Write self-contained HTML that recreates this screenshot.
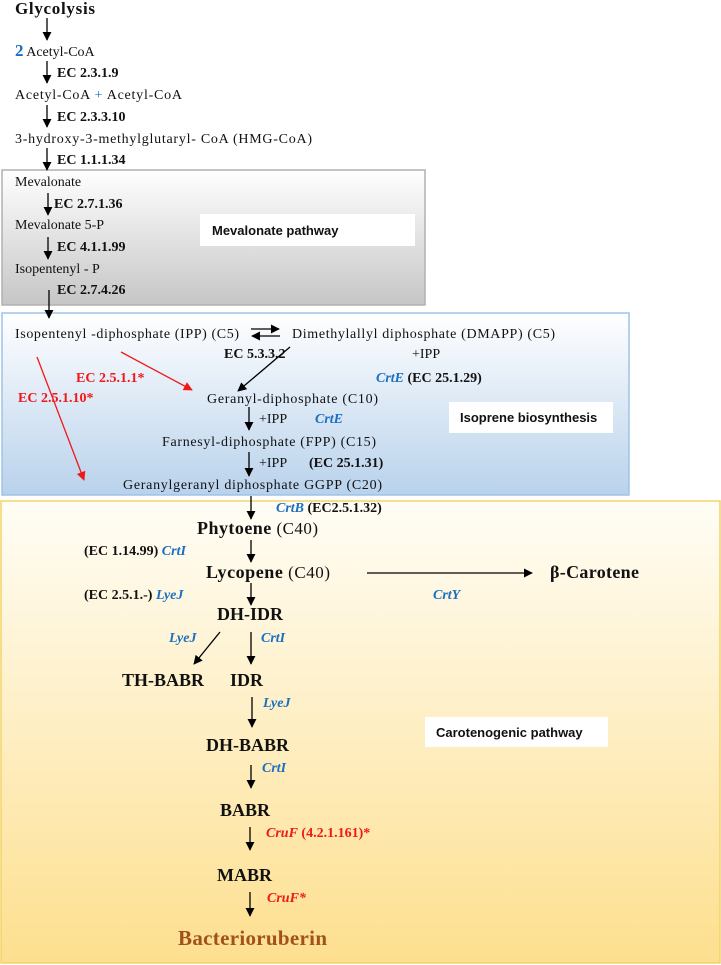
<!DOCTYPE html>
<html><head><meta charset="utf-8"><style>
html,body{margin:0;padding:0;background:#fff;width:721px;height:965px;overflow:hidden}
svg{display:block}
text{font-family:"Liberation Serif",serif;font-size:14px;fill:#111}
.b{font-weight:bold}
.bl{fill:#1a6fc0;font-style:italic;font-weight:bold}
.r{fill:#f01818;font-weight:bold}
.s{font-family:"Liberation Sans",sans-serif;font-weight:bold;font-size:13px}
.n{font-weight:bold;font-size:18px}
</style></head><body>
<svg width="721" height="965" viewBox="0 0 721 965" xmlns="http://www.w3.org/2000/svg">
<defs>
<linearGradient id="g1" x1="0" y1="0" x2="0" y2="1"><stop offset="0" stop-color="#ffffff"/><stop offset="1" stop-color="#c6c6c6"/></linearGradient>
<linearGradient id="g2" x1="0" y1="0" x2="0" y2="1"><stop offset="0" stop-color="#ffffff"/><stop offset="1" stop-color="#b9d2ec"/></linearGradient>
<linearGradient id="g3" x1="0" y1="0" x2="0" y2="1"><stop offset="0" stop-color="#fffdf6"/><stop offset="1" stop-color="#fddf8e"/></linearGradient>
<marker id="a" viewBox="0 0 10 10" refX="9" refY="5" markerWidth="7" markerHeight="7" orient="auto-start-reverse"><path d="M0,0 L10,5 L0,10 z" fill="#000"/></marker>
<marker id="ar" viewBox="0 0 10 10" refX="9" refY="5" markerWidth="7" markerHeight="7" orient="auto"><path d="M0,0 L10,5 L0,10 z" fill="#f01818"/></marker>
</defs>
<!-- boxes -->
<rect x="2" y="170" width="423" height="135" fill="url(#g1)" stroke="#b0b0b0" stroke-width="1.5"/>
<rect x="2" y="313" width="627" height="182" fill="url(#g2)" stroke="#9dc3e6" stroke-width="1.5"/>
<rect x="1" y="501" width="719" height="462" fill="url(#g3)" stroke="#f3d36a" stroke-width="1.5"/>
<rect x="200" y="214" width="215" height="32" fill="#fff"/>
<rect x="449" y="402" width="164" height="31" fill="#fff"/>
<rect x="425" y="717" width="183" height="30" fill="#fff"/>
<text class="s" x="212" y="235">Mevalonate pathway</text>
<text class="s" x="460" y="422">Isoprene biosynthesis</text>
<text class="s" x="436" y="737">Carotenogenic pathway</text>

<!-- arrows top -->
<g stroke="#000" stroke-width="1.3" fill="none" marker-end="url(#a)">
<line x1="47" y1="18" x2="47" y2="40"/>
<line x1="47" y1="61" x2="47" y2="83"/>
<line x1="47" y1="105" x2="47" y2="127"/>
<line x1="47" y1="148" x2="47" y2="170"/>
<line x1="48" y1="193" x2="48" y2="215"/>
<line x1="48" y1="237" x2="48" y2="259"/>
<line x1="49" y1="290" x2="49" y2="318"/>
<line x1="290" y1="347" x2="238" y2="391"/>
<line x1="249" y1="407" x2="249" y2="430"/>
<line x1="249" y1="452" x2="249" y2="476"/>
<line x1="251" y1="496" x2="251" y2="519"/>
<line x1="251" y1="540" x2="251" y2="562"/>
<line x1="367" y1="573" x2="532" y2="573"/>
<line x1="251" y1="583" x2="251" y2="605"/>
<line x1="220" y1="632" x2="194" y2="664"/>
<line x1="251" y1="632" x2="251" y2="664"/>
<line x1="252" y1="697" x2="252" y2="727"/>
<line x1="251" y1="765" x2="251" y2="788"/>
<line x1="250" y1="827" x2="250" y2="850"/>
<line x1="250" y1="892" x2="250" y2="916"/>
<line x1="251" y1="329" x2="279" y2="329"/>
</g>
<line x1="252" y1="336" x2="280" y2="336" stroke="#000" stroke-width="1.3" marker-start="url(#a)"/>
<g stroke="#f01818" stroke-width="1.3" marker-end="url(#ar)">
<line x1="121" y1="352" x2="192" y2="390"/>
<line x1="37" y1="357" x2="84" y2="480"/>
</g>

<!-- top texts -->
<text class="b" x="15" y="14" style="font-size:17px" textLength="80">Glycolysis</text>
<text x="15" y="56"><tspan style="fill:#1a6fc0;font-weight:bold;font-size:17px">2</tspan> Acetyl-CoA</text>
<text class="b" x="57" y="77">EC 2.3.1.9</text>
<text x="15" y="99" textLength="167">Acetyl-CoA <tspan fill="#1a6fc0">+</tspan> Acetyl-CoA</text>
<text class="b" x="57" y="121">EC 2.3.3.10</text>
<text x="15" y="143" textLength="297">3-hydroxy-3-methylglutaryl- CoA (HMG-CoA)</text>
<text class="b" x="57" y="164">EC 1.1.1.34</text>
<text x="15" y="186">Mevalonate</text>
<text class="b" x="54" y="208">EC 2.7.1.36</text>
<text x="15" y="229">Mevalonate 5-P</text>
<text class="b" x="57" y="251">EC 4.1.1.99</text>
<text x="15" y="273">Isopentenyl - P</text>
<text class="b" x="57" y="294">EC 2.7.4.26</text>

<!-- isoprene -->
<text x="15" y="338" textLength="224">Isopentenyl -diphosphate (IPP) (C5)</text>
<text x="292" y="338" textLength="263">Dimethylallyl diphosphate (DMAPP) (C5)</text>
<text class="b" x="224" y="358">EC 5.3.3.2</text>
<text x="412" y="358">+IPP</text>
<text x="376" y="382"><tspan class="bl">CrtE</tspan> <tspan class="b">(EC 25.1.29)</tspan></text>
<text class="r" x="76" y="382">EC 2.5.1.1*</text>
<text class="r" x="18" y="402">EC 2.5.1.10*</text>
<text x="207" y="403" textLength="171">Geranyl-diphosphate (C10)</text>
<text x="259" y="423">+IPP</text>
<text class="bl" x="315" y="423">CrtE</text>
<text x="162" y="446" textLength="214">Farnesyl-diphosphate (FPP) (C15)</text>
<text x="259" y="467">+IPP</text>
<text class="b" x="309" y="467">(EC 25.1.31)</text>
<text x="123" y="489" textLength="259">Geranylgeranyl diphosphate GGPP (C20)</text>

<!-- carotenoid -->
<text x="276" y="512"><tspan class="bl">CrtB</tspan> <tspan class="b">(EC2.5.1.32)</tspan></text>
<text x="197" y="534" textLength="121"><tspan class="n">Phytoene</tspan><tspan style="font-size:17px"> (C40)</tspan></text>
<text x="84" y="555"><tspan class="b">(EC 1.14.99)</tspan> <tspan class="bl">CrtI</tspan></text>
<text x="206" y="578" textLength="124"><tspan class="n">Lycopene</tspan><tspan style="font-size:17px"> (C40)</tspan></text>
<text class="n" x="550" y="578" textLength="89">β-Carotene</text>
<text class="bl" x="433" y="599">CrtY</text>
<text x="84" y="599"><tspan class="b">(EC 2.5.1.-)</tspan> <tspan class="bl">LyeJ</tspan></text>
<text class="n" x="217" y="620">DH-IDR</text>
<text class="bl" x="169" y="642">LyeJ</text>
<text class="bl" x="261" y="642">CrtI</text>
<text class="n" x="122" y="686">TH-BABR</text>
<text class="n" x="230" y="686">IDR</text>
<text class="bl" x="263" y="707">LyeJ</text>
<text class="n" x="206" y="751">DH-BABR</text>
<text class="bl" x="262" y="772">CrtI</text>
<text class="n" x="220" y="816">BABR</text>
<text x="266" y="837"><tspan class="r" style="font-style:italic">CruF</tspan> <tspan class="r">(4.2.1.161)*</tspan></text>
<text class="n" x="217" y="881">MABR</text>
<text class="r" x="267" y="902" style="font-style:italic">CruF*</text>
<text x="178" y="945" textLength="149" style="font-weight:bold;font-size:21px;fill:#a0521c">Bacterioruberin</text>
</svg>
</body></html>
